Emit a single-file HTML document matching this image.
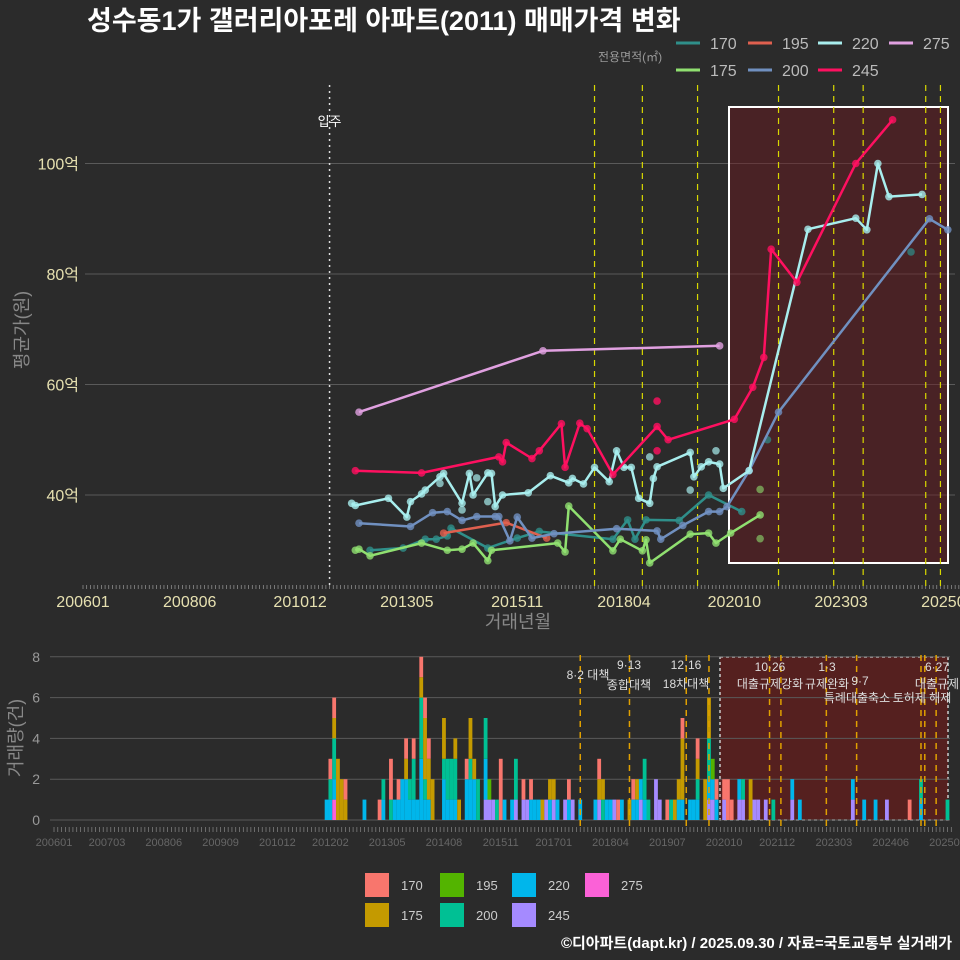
<!DOCTYPE html>
<html><head><meta charset="utf-8">
<style>
html,body{margin:0;padding:0;background:#2b2b2b;}
svg{display:block;font-family:"Liberation Sans","Noto Sans CJK KR",sans-serif;}
</style></head>
<body>
<svg id="chart" width="960" height="960" viewBox="0 0 960 960" xmlns="http://www.w3.org/2000/svg">
<rect x="0" y="0" width="960" height="960" fill="#2b2b2b"/>
<text x="87" y="30" font-size="27" font-weight="bold" fill="#ffffff">성수동1가 갤러리아포레 아파트(2011) 매매가격 변화</text>
<g id="main"></g>
<g id="bottom"></g>
<g id="legend-top">
<text x="598" y="61" font-size="12" fill="#999">전용면적(㎡)</text>
</g>
<g id="legend-bottom"></g>
<text x="952" y="948" text-anchor="end" font-size="15" font-weight="bold" fill="#ffffff">©디아파트(dapt.kr) / 2025.09.30 / 자료=국토교통부 실거래가</text>
</svg>
<script>
// ---- data ----
const areaNames = ["170","175","195","200","220","245","275"];
const lineColors = ["#2f8f8a","#90e070","#e0604f","#7090c0","#a8eeee","#ff1060","#e0a0e0"];
const barColors = ["#F8766D","#C49A00","#53B400","#00C094","#00B6EB","#A58AFF","#FB61D7"];

const m170 = ["201207","201304","201310","201401","201404","201405","201503","201511","201605","201801","201805","201807","201810","201907","202003","202012"];
const v170 = [30.0,30.4,32.0,32.0,32.6,34.0,30.4,32.2,33.4,32.0,35.5,32.0,35.5,35.4,40.0,37.0];
const m175 = ["201203","201204","201207","201309","201404","201408","201411","201503","201504","201610","201612","201701","201801","201803","201809","201810","201811","201910","202003","202005","202009","202105"];
const v175 = [30.0,30.2,29.0,31.3,30.0,30.2,31.3,28.1,30.0,31.3,29.7,38.0,29.9,32.0,29.9,31.9,27.7,32.9,33.1,31.3,33.1,36.4];
const m195 = ["201403","201508","201607"];
const v195 = [33.1,35.0,32.2];
const m200 = ["201204","201306","201312","201404","201408","201412","201505","201506","201509","201511","201603","201609","201802","201901","201902","201908","202003","202006","202008","202102","202110","202503","202508"];
const v200 = [34.9,34.3,36.8,37.0,35.4,36.1,36.1,36.1,31.7,36.0,32.2,33.0,33.9,33.5,32.0,34.5,37.0,37.0,37.9,44.4,55.0,90.0,88.0];
const m220 = ["201202","201203","201212","201305","201306","201309","201310","201402","201403","201408","201410","201411","201503","201504","201505","201507","201602","201608","201701","201702","201705","201708","201712","201802","201804","201806","201808","201811","201812","201901","201910","201911","202001","202003","202006","202007","202102","202206","202307","202310","202401","202404","202501"];
const v220 = [38.5,38.1,39.4,36.0,38.8,40.2,40.9,43.3,43.9,38.5,43.9,40.0,44.0,43.9,37.9,40.0,40.4,43.5,42.2,43.0,42.0,45.0,42.4,48.0,45.0,45.0,39.4,38.5,43.0,45.1,47.7,43.3,45.1,46.0,45.6,41.2,44.4,88.1,90.1,88.0,100.0,94.0,94.4];
const m245 = ["201203","201309","201506","201507","201508","201603","201605","201611","201612","201704","201706","201801","201901","201904","202010","202103","202106","202108","202203","202307","202405"];
const v245 = [44.4,44.0,46.9,46.0,49.5,46.6,48.0,52.9,45.0,53.0,52.0,43.7,52.4,50.0,53.7,59.5,64.9,84.5,78.5,100.0,107.9];
const m275 = ["201204","201606","202006"];
const v275 = [55.0,66.1,67.0];
// extra individual trades (scatter only)
const xs170m = ["202107","202410"]; const xs170v = [50.0,84.0];
const xs220m = ["201503","201408","201412","201402","201811","202005","201910"]; const xs220v = [38.8,37.3,43.1,42.1,46.9,48.0,40.9];
const xs245m = ["201901","201901"]; const xs245v = [57.0,48.0];
const xs175m = ["202105","202105"]; const xs175v = [41.0,32.1];

const priceTicks = [40,60,80,100];
const mainXLabels = ["200601","200806","201012","201305","201511","201804","202010","202303","202508"];
const botXLabels = ["200601","200703","200806","200909","201012","201202","201305","201408","201511","201701","201804","201907","202010","202112","202303","202406","202509"];
const volTicks = [0,2,4,6,8];
const moveInMonth = "201108";
const policyMonths = ["201708","201809","201912","202006","202110","202201","202301","202309","202502","202503","202506"];
const policyMain = ["201708","201809","201912","202110","202301","202309","202502","202506"];

// volume bars
const barMonths = ["201201","201202","201203","201204","201205","201206","201211","201303","201304","201305","201306","201307","201308","201309","201310","201311","201312","201401","201402","201403","201404","201405","201408","201409","201410","201411","201412","201502","201503","201504","201505","201507","201508","201509","201510","201511","201512","201602","201603","201605","201606","201607","201608","201609","201610","201611","201612","201701","201702","201704","201705","201706","201708","201712","201801","201802","201803","201804","201805","201806","201807","201809","201810","201811","201812","201901","201902","201904","201905","201907","201908","201909","201910","201911","202001","202002","202003","202005","202006","202007","202008","202010","202011","202012","202102","202103","202105","202106","202107","202109","202111","202204","202206","202308","202311","202402","202405","202406","202411","202502","202504","202509"];
const c170 = [0,1,1,0,0,1,0,1,0,0,2,0,1,0,1,0,1,0,1,1,1,0,0,0,0,0,0,1,0,0,0,0,0,0,0,3,0,0,0,1,0,1,0,0,0,0,0,0,0,0,1,0,0,0,1,0,0,0,0,1,0,0,1,0,0,0,0,0,0,1,0,0,0,1,0,0,1,0,0,0,1,1,2,1,0,0,0,0,0,0,0,0,0,0,0,0,0,0,1,0,0,0];
const c175 = [0,0,1,3,2,1,0,0,0,0,0,0,0,0,1,0,0,0,1,3,2,2,2,0,0,1,1,0,2,1,0,0,0,0,0,0,0,0,0,0,0,0,0,0,1,0,1,1,0,0,0,0,0,0,1,1,0,0,0,0,0,1,0,1,0,0,0,0,0,0,0,1,1,3,0,0,1,2,2,0,0,0,0,0,0,0,2,0,0,0,0,0,0,0,0,0,0,0,0,0,0,0];
const c195 = [0,0,0,0,0,0,0,0,0,0,0,0,0,0,0,0,0,0,0,0,0,0,0,0,0,0,0,0,0,0,0,0,1,0,0,0,0,0,0,0,0,0,0,0,0,0,0,0,0,0,0,0,0,0,0,0,0,0,0,0,0,0,0,0,0,0,0,0,0,0,0,0,0,0,0,0,0,0,0,1,0,0,0,0,0,0,0,0,0,0,0,0,0,0,0,0,0,0,0,0,0,0];
const c200 = [0,1,2,0,0,0,0,0,1,0,1,0,0,0,0,1,2,0,3,1,0,0,1,2,2,2,0,0,1,0,2,2,0,0,1,0,0,0,2,0,0,0,0,0,0,0,0,0,0,0,0,0,0,0,0,1,0,0,0,0,0,0,0,0,0,2,1,0,0,0,1,0,0,0,0,0,1,0,2,0,0,0,0,0,0,1,0,0,0,0,1,0,0,0,0,0,0,0,0,1,0,1];
const c220 = [1,1,1,0,0,0,1,0,1,0,0,1,1,2,2,1,1,1,3,1,1,0,2,1,1,1,0,2,2,2,0,2,0,0,0,0,1,1,0,0,0,1,1,1,0,0,1,0,1,0,1,0,1,1,0,0,1,1,0,0,1,0,1,1,1,1,0,0,0,0,0,0,1,1,1,1,1,0,1,1,1,0,0,0,1,0,0,0,0,0,0,1,1,1,1,1,0,0,0,1,0,0];
const c245 = [0,0,0,0,0,0,0,0,0,0,0,0,0,0,0,0,0,0,0,0,0,0,0,0,0,0,0,0,0,0,0,1,1,1,0,0,0,0,1,1,1,0,0,0,0,1,0,1,0,1,0,1,0,0,1,0,0,0,1,0,0,0,0,0,1,0,0,2,1,0,0,0,0,0,0,0,0,0,1,1,0,1,0,0,1,1,0,1,1,1,0,1,0,1,0,0,1,0,0,0,0,0];
const c275 = [0,0,1,0,0,0,0,0,0,0,0,0,0,0,0,0,0,0,0,0,0,0,0,0,0,0,0,0,0,0,0,0,0,0,0,0,0,0,0,0,0,0,0,0,0,0,0,0,0,0,0,0,0,0,0,0,0,0,0,0,0,0,0,0,0,0,0,0,0,0,0,0,0,0,0,0,0,0,0,0,0,0,0,0,0,0,0,0,0,0,0,0,0,0,0,0,0,0,0,0,0,0];

// ---- scales ----
function mIdx(s){return (parseInt(s.slice(0,4))-2006)*12+parseInt(s.slice(4,6))-1;}
function xMain(s){return 83+3.68*mIdx(s);}
function yMain(v){return 495-(v-40)*5.525;}
function xBot(s){return 54+3.786*mIdx(s);}
function yBot(n){return 820-n*20.4;}
const NS="http://www.w3.org/2000/svg";
function mk(tag,attrs,parent){const e=document.createElementNS(NS,tag);for(const k in attrs)e.setAttribute(k,attrs[k]);parent.appendChild(e);return e;}

const main=document.getElementById('main');
const bottom=document.getElementById('bottom');

// main grid
priceTicks.forEach(t=>{
  const l=mk('line',{x1:85,x2:955,y1:yMain(t),y2:yMain(t),stroke:'#5a5a5a','stroke-width':1},main);
  
  
  const tx=mk('text',{x:79,y:yMain(t)+6,'text-anchor':'end','font-size':16,fill:'#e6e0b0'},main);
  tx.textContent=t+'억';
  
  
});
// red highlight rect
const hr=mk('rect',{x:729,y:107,width:219,height:456,fill:'rgba(110,25,30,0.45)',stroke:'#ffffff','stroke-width':2},main);


// minor ticks
for(let m=0;m<=238;m++){
  const x=83+3.68*m;
  const t=mk('line',{x1:x,x2:x,y1:585,y2:589,stroke:'#999','stroke-width':0.7},main);
  
  
}
mainXLabels.forEach(s=>{
  const tx=mk('text',{x:xMain(s),y:607,'text-anchor':'middle','font-size':16,fill:'#e6e0b0'},main);
  tx.textContent=s;
  
  
});
const xt=mk('text',{x:518,y:628,'text-anchor':'middle','font-size':18,fill:'#888'},main);
xt.textContent='거래년월';


const yt=mk('text',{x:28,y:330,'text-anchor':'middle','font-size':18,fill:'#888',transform:'rotate(-90 28 330)'},main);
yt.textContent='평균가(원)';


// move-in line
const mv=mk('line',{x1:xMain(moveInMonth),x2:xMain(moveInMonth),y1:85,y2:585,stroke:'#dddddd','stroke-width':1.5,'stroke-dasharray':'2,4'},main);


const mvt=mk('text',{x:xMain(moveInMonth),y:126,'text-anchor':'middle','font-size':13,fill:'#fff'},main);
mvt.textContent='입주';


policyMain.forEach(s=>{
  const l=mk('line',{x1:xMain(s),x2:xMain(s),y1:85,y2:590,stroke:'#d8d800','stroke-width':1.2,'stroke-dasharray':'6,5'},main);
  
  
});
// series
const seriesM=[m170,m175,m195,m200,m220,m245,m275];
const seriesV=[v170,v175,v195,v200,v220,v245,v275];
function scatter(ms,vs,col,op){
  ms.forEach((s,i)=>{
    const c=mk('circle',{cx:xMain(s),cy:yMain(vs[i]),r:3.8,fill:col,opacity:op},main);
    
    
  });
}
scatter(xs170m,xs170v,lineColors[0],0.7);
scatter(xs220m,xs220v,lineColors[4],0.7);
scatter(xs245m,xs245v,lineColors[5],0.8);
scatter(xs175m,xs175v,lineColors[1],0.6);
seriesM.forEach((ms,k)=>{
  const d=ms.map((s,i)=>(i?'L':'M')+xMain(s).toFixed(1)+','+yMain(seriesV[k][i]).toFixed(1)).join(' ');
  const p=mk('path',{d:d,fill:'none',stroke:lineColors[k],'stroke-width':2.5,'stroke-linejoin':'round'},main);
  
  
  scatter(ms,seriesV[k],lineColors[k],0.8);
});

// ---- bottom panel ----
const br=mk('rect',{x:720,y:657,width:228,height:163,fill:'#55201f',stroke:'#cccccc','stroke-width':1.5,'stroke-dasharray':'3,3'},bottom);


volTicks.forEach(t=>{
  const l=mk('line',{x1:50,x2:950,y1:yBot(t),y2:yBot(t),stroke:'#5a5a5a','stroke-width':1},bottom);
  
  
  const tx=mk('text',{x:40,y:yBot(t)+5,'text-anchor':'end','font-size':14,fill:'#999'},bottom);
  tx.textContent=t;
  
  
});
const counts=[c170,c175,c195,c200,c220,c245,c275];
barMonths.forEach((s,i)=>{
  let acc=0;
  for(let k=6;k>=0;k--){
    const n=counts[k][i]; if(!n) continue;
    const r=mk('rect',{x:xBot(s)-1.9,y:yBot(acc+n),width:3.8,height:n*20.4,fill:barColors[k]},bottom);
    
    
    acc+=n;
  }
});
policyMonths.forEach(s=>{
  const l=mk('line',{x1:xBot(s),x2:xBot(s),y1:655,y2:828,stroke:'#e0a000','stroke-width':1.5,'stroke-dasharray':'6,5'},bottom);
  
  
});
const notes=[[588,679,'8·2 대책'],[629,669,'9·13'],[629,689,'종합대책'],[686,669,'12·16'],[686,688,'18차대책'],[770,671,'10·26'],[770,688,'대출규제강화'],[827,671,'1·3'],[827,688,'규제완화'],[860,685,'9·7'],[857,702,'특례대출축소'],[922,702,'토허제 해제'],[937,671,'6·27'],[937,688,'대출규제']];
notes.forEach(n=>{
  const tx=mk('text',{x:n[0],y:n[1],'text-anchor':'middle','font-size':12,fill:'#dddddd'},bottom);
  tx.textContent=n[2];
  
  
});
for(let m=0;m<=237;m++){
  const x=54+3.786*m;
  const t=mk('line',{x1:x,x2:x,y1:827,y2:832,stroke:'#888','stroke-width':0.7},bottom);
  
  
}
botXLabels.forEach(s=>{
  const tx=mk('text',{x:xBot(s),y:846,'text-anchor':'middle','font-size':11,fill:'#666'},bottom);
  tx.textContent=s;
  
  
});
const vt=mk('text',{x:22,y:738,'text-anchor':'middle','font-size':18,fill:'#888',transform:'rotate(-90 22 738)'},bottom);
vt.textContent='거래량(건)';



// ---- legends ----
const lt=document.getElementById('legend-top');
const topPos=[[676,43],[676,70],[748,43],[748,70],[818,43],[818,70],[889,43]];
areaNames.forEach((a,k)=>{
  const l=mk('line',{x1:topPos[k][0],x2:topPos[k][0]+24,y1:topPos[k][1],y2:topPos[k][1],stroke:lineColors[k],'stroke-width':3},lt);
  
  
  const tx=mk('text',{x:topPos[k][0]+34,y:topPos[k][1]+6,'font-size':16,fill:'#bbbbbb'},lt);
  tx.textContent=a;
  
  
});
const lb=document.getElementById('legend-bottom');
const botPos=[[365,873],[365,903],[440,873],[440,903],[512,873],[512,903],[585,873]];
areaNames.forEach((a,k)=>{
  const r=mk('rect',{x:botPos[k][0],y:botPos[k][1],width:24,height:24,fill:barColors[k]},lb);
  
  
  const tx=mk('text',{x:botPos[k][0]+36,y:botPos[k][1]+17,'font-size':13,fill:'#cccccc'},lb);
  tx.textContent=a;
  
  
});
</script>
</body></html>
